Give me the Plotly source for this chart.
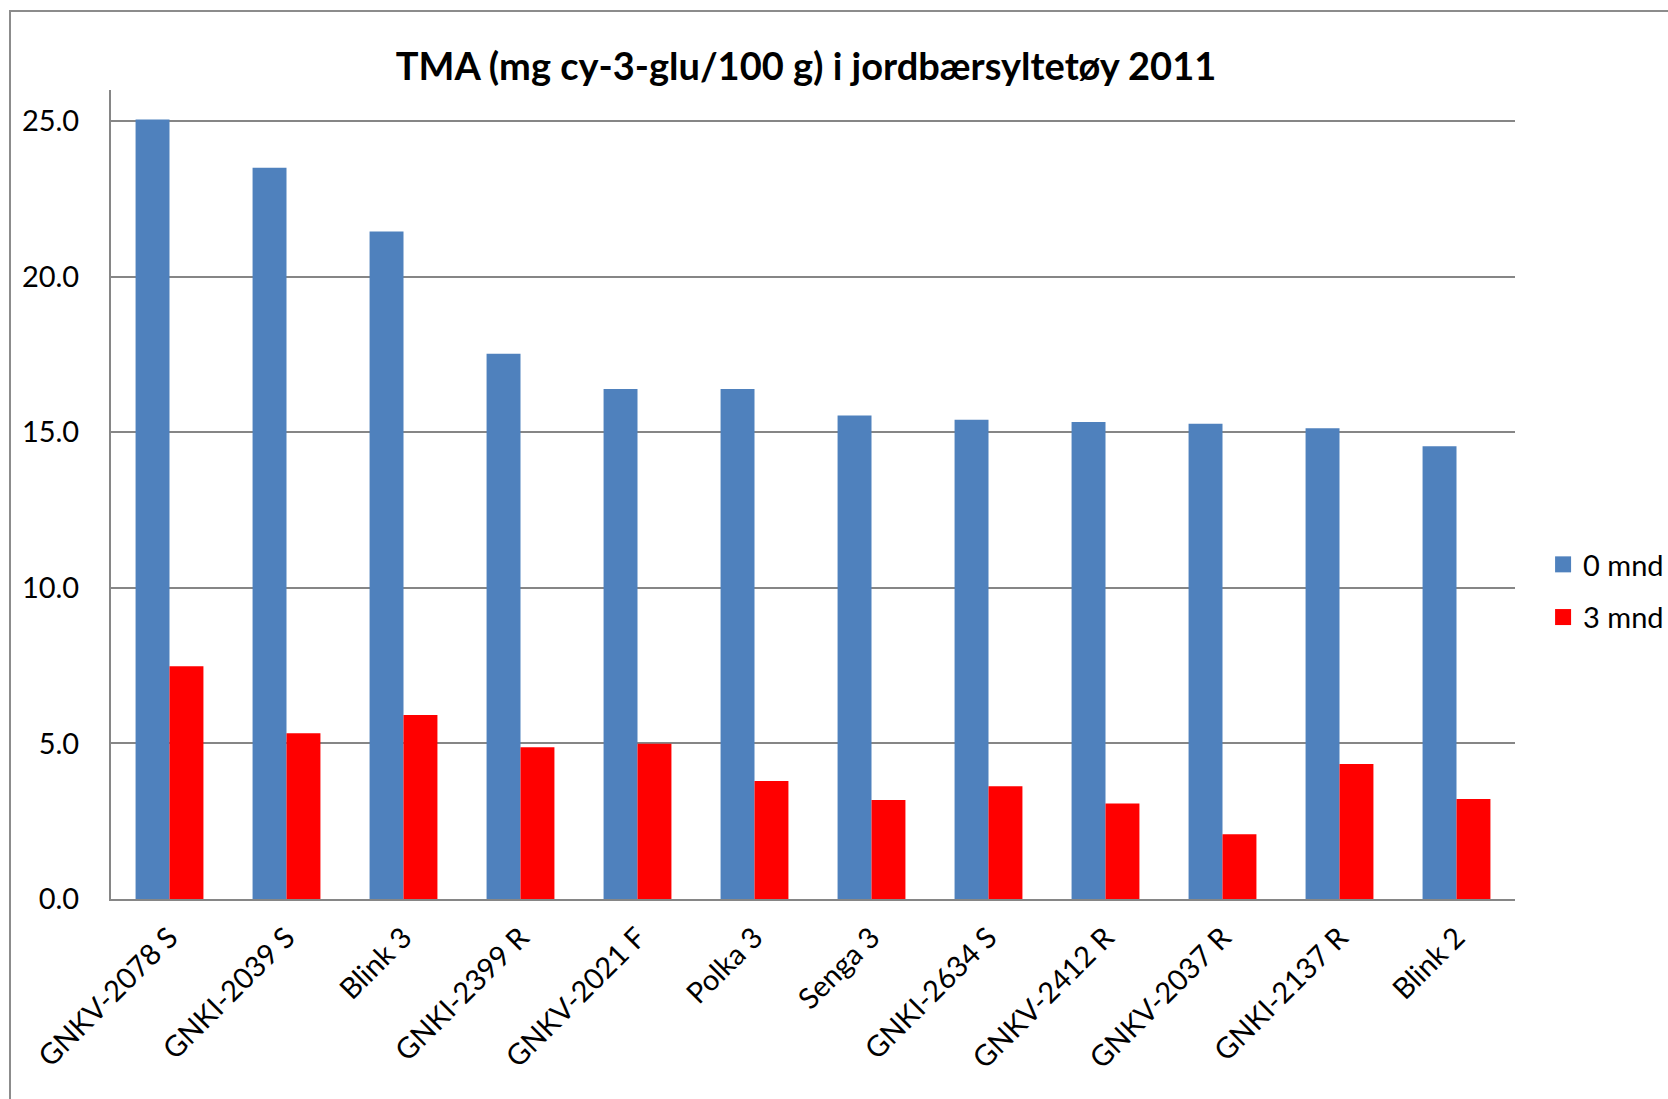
import plotly.graph_objects as go

# Jam samples and total monomeric anthocyanin content (mg cy-3-glu/100 g)
categories = ["GNKV-2078 S", "GNKI-2039 S", "Blink 3", "GNKI-2399 R", "GNKV-2021 F",
              "Polka 3", "Senga 3", "GNKI-2634 S", "GNKV-2412 R", "GNKV-2037 R",
              "GNKI-2137 R", "Blink 2"]
tma_0_mnd = [25.05, 23.5, 21.45, 17.52, 16.39, 16.39, 15.54, 15.40, 15.33, 15.27, 15.13, 14.55]
tma_3_mnd = [7.48, 5.33, 5.91, 4.88, 4.99, 3.79, 3.18, 3.62, 3.07, 2.08, 4.34, 3.21]
series_names = ["0 mnd", "3 mnd"]
series_colors = ["#4F81BD", "#FF0000"]
y_ticks = [0, 5, 10, 15, 20, 25]
y_tick_labels = ["0.0", "5.0", "10.0", "15.0", "20.0", "25.0"]

FONT = "Lato, Carlito, Calibri, sans-serif"
W, H = 1668, 1099
L, R, T, B = 111, 153, 90, 200
pw, ph = W - L - R, H - T - B

def px_x(x):
    return (x - L) / pw

def px_y(y):
    return (H - B - y) / ph

fig = go.Figure()
for name, vals, col in zip(series_names, [tma_0_mnd, tma_3_mnd], series_colors):
    fig.add_trace(go.Bar(x=categories, y=vals, name=name, legendgroup=name,
                         showlegend=False, marker=dict(color=col, line=dict(width=0))))
    # legend entry with a larger square swatch
    fig.add_trace(go.Scatter(x=[None], y=[None], mode="markers", name=name,
                             legendgroup=name,
                             marker=dict(symbol="square", size=17, color=col)))

fig.update_layout(
    width=W, height=H,
    margin=dict(l=L, r=R, t=T, b=B, autoexpand=False),
    paper_bgcolor="white", plot_bgcolor="white",
    barmode="group", bargap=0.42, bargroupgap=0,
    font=dict(family=FONT, size=29, color="black"),
    title=dict(text="<b>TMA (mg cy-3-glu/100 g) i jordbærsyltetøy 2011</b>",
               x=px_x(806), xref="paper", xanchor="center",
               y=1 - 67 / H, yref="container", yanchor="middle",
               font=dict(family=FONT, size=38, color="black")),
    legend=dict(x=1.02, xanchor="left", y=px_y(591), yanchor="middle",
                font=dict(family=FONT, size=29), tracegroupgap=12,
                bgcolor="rgba(0,0,0,0)", itemwidth=30),
    showlegend=True,
    xaxis=dict(tickangle=-45, showline=True, linecolor="#868686", linewidth=2,
               ticks="", showgrid=False, tickfont=dict(family=FONT, size=29),
               ticklabelstandoff=8),
    yaxis=dict(range=[0, 26], tickvals=y_ticks, ticktext=y_tick_labels,
               showline=True, linecolor="#868686", linewidth=2,
               showgrid=True, gridcolor="#868686", gridwidth=1.5,
               ticks="", zeroline=False, tickfont=dict(family=FONT, size=29),
               ticklabelstandoff=24),
)

# Outer chart frame
fig.add_shape(type="rect", xref="paper", yref="paper",
              x0=px_x(10), x1=px_x(1700), y0=px_y(1130), y1=px_y(11),
              line=dict(color="#8C8C8C", width=2), fillcolor="rgba(0,0,0,0)",
              layer="below")

fig.write_html("out.html")
